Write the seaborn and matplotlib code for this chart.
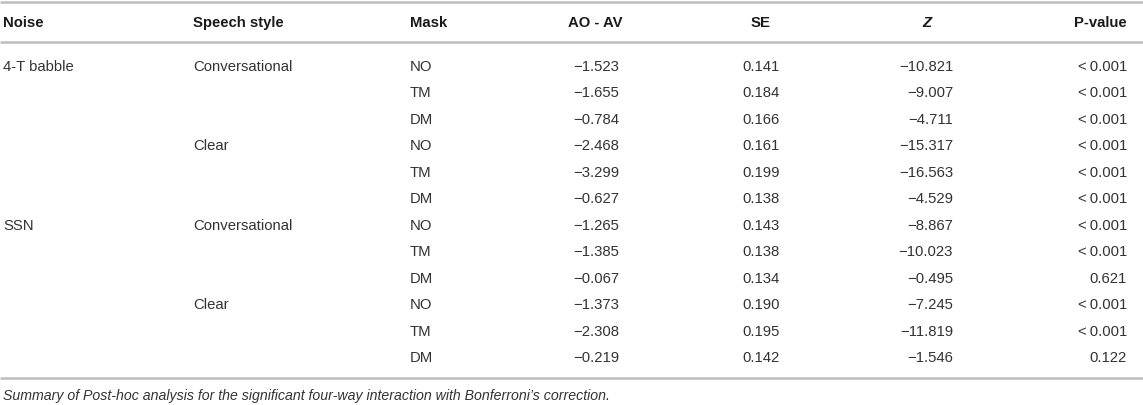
import matplotlib
matplotlib.use("Agg")
import matplotlib.pyplot as plt
import seaborn as sns

sns.set_theme(style="white")
plt.rcParams['font.family'] = ['Liberation Sans', 'DejaVu Sans']

headers = ["Noise", "Speech style", "Mask", "AO - AV", "SE", "Z", "P-value"]
noise = ["4-T babble", "", "", "", "", "", "SSN", "", "", "", "", ""]
speech = ["Conversational", "", "", "Clear", "", "", "Conversational", "", "", "Clear", "", ""]
mask = ["NO", "TM", "DM", "NO", "TM", "DM", "NO", "TM", "DM", "NO", "TM", "DM"]
ao_av = ["−1.523", "−1.655", "−0.784", "−2.468", "−3.299", "−0.627",
         "−1.265", "−1.385", "−0.067", "−1.373", "−2.308", "−0.219"]
se = ["0.141", "0.184", "0.166", "0.161", "0.199", "0.138",
      "0.143", "0.138", "0.134", "0.190", "0.195", "0.142"]
z = ["−10.821", "−9.007", "−4.711", "−15.317", "−16.563", "−4.529",
     "−8.867", "−10.023", "−0.495", "−7.245", "−11.819", "−1.546"]
p = ["<\u20090.001"] * 8 + ["0.621", "<\u20090.001", "<\u20090.001", "0.122"]
caption = "Summary of Post-hoc analysis for the significant four-way interaction with Bonferroni’s correction."

W, H = 1143, 406
fig = plt.figure(figsize=(W / 100, H / 100), dpi=100)
ax = fig.add_axes([0, 0, 1, 1])
ax.set_xlim(0, W)
ax.set_ylim(H, 0)
ax.axis("off")

fs = 10.7
body_c = "#333333"
head_c = "#1a1a1a"
line_c = "#bdbdbd"

# rules
for yl in (3, 43, 379):
    ax.plot([0, W], [yl, yl], color=line_c, lw=1.8, solid_capstyle="butt")

# column specs: (x, ha) for header and for body
head_pos = [(3, "left"), (193, "left"), (410, "left"), (595, "center"),
            (761, "center"), (927, "center"), (1127, "right")]
body_pos = [(3, "left"), (193, "left"), (410, "left"), (619, "right"),
            (761, "center"), (953, "right"), (1127, "right")]

hy = 23
for (x, ha), h in zip(head_pos, headers):
    style = "italic" if h == "Z" else "normal"
    ax.text(x, hy, h, ha=ha, va="center", fontsize=fs, fontweight="bold",
            fontstyle=style, color=head_c)

cols = [noise, speech, mask, ao_av, se, z, p]
y0, dy = 66.7, 26.5
for i in range(len(mask)):
    y = y0 + i * dy
    for (x, ha), col in zip(body_pos, cols):
        if col[i]:
            ax.text(x, y, col[i], ha=ha, va="center", fontsize=fs, color=body_c)

ax.text(3, 396, caption, ha="left", va="center", fontsize=10.2,
        fontstyle="italic", color=body_c)

fig.savefig("out.png", dpi=100)
